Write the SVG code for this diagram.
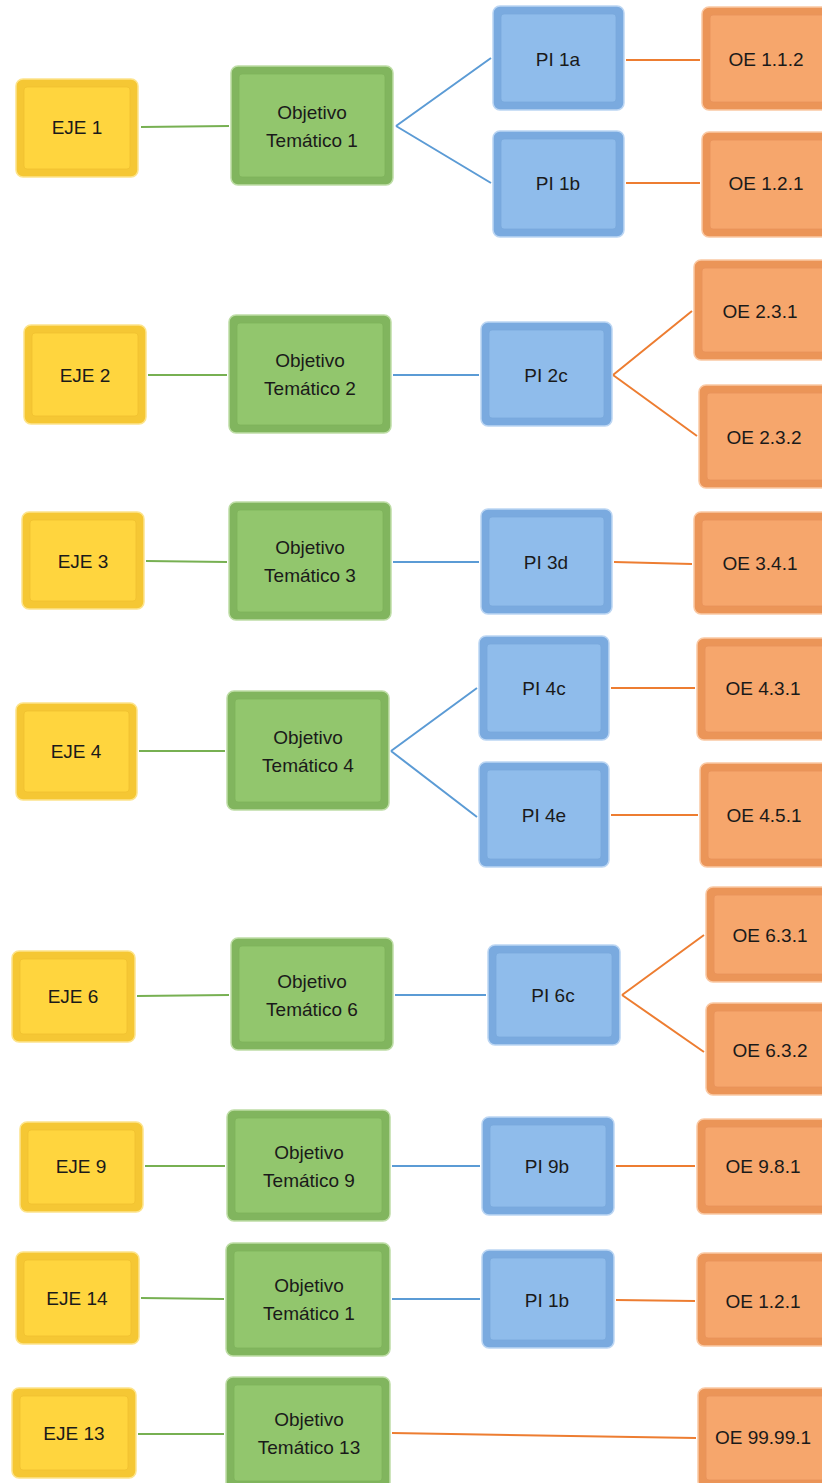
<svg xmlns="http://www.w3.org/2000/svg" width="822" height="1483" viewBox="0 0 822 1483">
<style>
.o{stroke-width:1.5}
.i{stroke-width:0.8}
.y .o{fill:#F5C734;stroke:#FDE48C}
.y .i{fill:#FFD53E;stroke:#F0C030}
.g .o{fill:#81B55E;stroke:#BEDDA6}
.g .i{fill:#92C66D;stroke:#7FB45A}
.b .o{fill:#7AAADF;stroke:#BCD6F3}
.b .i{fill:#8FBCEB;stroke:#78A8DC}
.r .o{fill:#EB9558;stroke:#FAC9A4}
.r .i{fill:#F6A66C;stroke:#E8925A}
text{font-family:"Liberation Sans",Arial,sans-serif;font-size:19px;fill:#1a1a1a;text-anchor:middle}
.lg{stroke:#77B052;stroke-width:2;fill:none}
.lb{stroke:#5B9BD5;stroke-width:2;fill:none}
.lr{stroke:#ED7D31;stroke-width:2;fill:none}
</style>
<rect width="822" height="1483" fill="#ffffff"/>
<g id="connectors">
<path class="lg" d="M141,127 L229,126"/>
<path class="lb" d="M396,126 L491,58 M396,126 L491,183"/>
<path class="lr" d="M626,60 L700,60 M626,183 L700,183"/>
<path class="lg" d="M148,375 L227,375"/>
<path class="lb" d="M393,375 L479,375"/>
<path class="lr" d="M613,375 L692,311 M613,375 L697,436"/>
<path class="lg" d="M146,561 L227,562"/>
<path class="lb" d="M393,562 L479,562"/>
<path class="lr" d="M614,562 L692,564"/>
<path class="lg" d="M139,751 L225,751"/>
<path class="lb" d="M391,751 L477,688 M391,751 L477,817"/>
<path class="lr" d="M611,688 L695,688 M611,815 L698,815"/>
<path class="lg" d="M137,996 L229,995"/>
<path class="lb" d="M395,995 L486,995"/>
<path class="lr" d="M622,995 L704,935 M622,995 L704,1052"/>
<path class="lg" d="M145,1166 L225,1166"/>
<path class="lb" d="M392,1166 L480,1166"/>
<path class="lr" d="M616,1166 L695,1166"/>
<path class="lg" d="M141,1298 L224,1299"/>
<path class="lb" d="M392,1299 L480,1299"/>
<path class="lr" d="M616,1300 L695,1301"/>
<path class="lg" d="M138,1434 L224,1434"/>
<path class="lr" d="M392,1433 L696,1438"/>
</g>

<g id="eje1" class="y"><rect class="o" x="16" y="79" width="122" height="98" rx="7"/><rect class="i" x="24" y="87" width="106" height="82" rx="3"/><text x="77" y="134">EJE 1</text></g>
<g id="ot1" class="g"><rect class="o" x="231" y="66" width="162" height="119" rx="7"/><rect class="i" x="239" y="74" width="146" height="103" rx="3"/><text x="312" y="119">Objetivo</text><text x="312" y="147">Temático 1</text></g>
<g id="pi1a" class="b"><rect class="o" x="493" y="6" width="131" height="104" rx="7"/><rect class="i" x="501" y="14" width="115" height="88" rx="3"/><text x="558" y="66">PI 1a</text></g>
<g id="pi1b" class="b"><rect class="o" x="493" y="131" width="131" height="106" rx="7"/><rect class="i" x="501" y="139" width="115" height="90" rx="3"/><text x="558" y="190">PI 1b</text></g>
<g id="oe112" class="r"><rect class="o" x="702" y="7" width="130" height="103" rx="7"/><rect class="i" x="710" y="15" width="120" height="87" rx="3"/><text x="766" y="66">OE 1.1.2</text></g>
<g id="oe121a" class="r"><rect class="o" x="702" y="132" width="130" height="105" rx="7"/><rect class="i" x="710" y="140" width="120" height="89" rx="3"/><text x="766" y="190">OE 1.2.1</text></g>

<g id="eje2" class="y"><rect class="o" x="24" y="325" width="122" height="99" rx="7"/><rect class="i" x="32" y="333" width="106" height="83" rx="3"/><text x="85" y="382">EJE 2</text></g>
<g id="ot2" class="g"><rect class="o" x="229" y="315" width="162" height="118" rx="7"/><rect class="i" x="237" y="323" width="146" height="102" rx="3"/><text x="310" y="367">Objetivo</text><text x="310" y="395">Temático 2</text></g>
<g id="pi2c" class="b"><rect class="o" x="481" y="322" width="131" height="104" rx="7"/><rect class="i" x="489" y="330" width="115" height="88" rx="3"/><text x="546" y="382">PI 2c</text></g>
<g id="oe231" class="r"><rect class="o" x="694" y="260" width="138" height="100" rx="7"/><rect class="i" x="702" y="268" width="128" height="84" rx="3"/><text x="760" y="318">OE 2.3.1</text></g>
<g id="oe232" class="r"><rect class="o" x="699" y="385" width="133" height="103" rx="7"/><rect class="i" x="707" y="393" width="123" height="87" rx="3"/><text x="764" y="444">OE 2.3.2</text></g>

<g id="eje3" class="y"><rect class="o" x="22" y="512" width="122" height="97" rx="7"/><rect class="i" x="30" y="520" width="106" height="81" rx="3"/><text x="83" y="568">EJE 3</text></g>
<g id="ot3" class="g"><rect class="o" x="229" y="502" width="162" height="118" rx="7"/><rect class="i" x="237" y="510" width="146" height="102" rx="3"/><text x="310" y="554">Objetivo</text><text x="310" y="582">Temático 3</text></g>
<g id="pi3d" class="b"><rect class="o" x="481" y="509" width="131" height="105" rx="7"/><rect class="i" x="489" y="517" width="115" height="89" rx="3"/><text x="546" y="569">PI 3d</text></g>
<g id="oe341" class="r"><rect class="o" x="694" y="512" width="138" height="102" rx="7"/><rect class="i" x="702" y="520" width="128" height="86" rx="3"/><text x="760" y="570">OE 3.4.1</text></g>

<g id="eje4" class="y"><rect class="o" x="16" y="703" width="121" height="97" rx="7"/><rect class="i" x="24" y="711" width="105" height="81" rx="3"/><text x="76" y="758">EJE 4</text></g>
<g id="ot4" class="g"><rect class="o" x="227" y="691" width="162" height="119" rx="7"/><rect class="i" x="235" y="699" width="146" height="103" rx="3"/><text x="308" y="744">Objetivo</text><text x="308" y="772">Temático 4</text></g>
<g id="pi4c" class="b"><rect class="o" x="479" y="636" width="130" height="104" rx="7"/><rect class="i" x="487" y="644" width="114" height="88" rx="3"/><text x="544" y="695">PI 4c</text></g>
<g id="pi4e" class="b"><rect class="o" x="479" y="762" width="130" height="105" rx="7"/><rect class="i" x="487" y="770" width="114" height="89" rx="3"/><text x="544" y="822">PI 4e</text></g>
<g id="oe431" class="r"><rect class="o" x="697" y="638" width="135" height="102" rx="7"/><rect class="i" x="705" y="646" width="125" height="86" rx="3"/><text x="763" y="695">OE 4.3.1</text></g>
<g id="oe451" class="r"><rect class="o" x="700" y="763" width="132" height="104" rx="7"/><rect class="i" x="708" y="771" width="122" height="88" rx="3"/><text x="764" y="822">OE 4.5.1</text></g>

<g id="eje6" class="y"><rect class="o" x="12" y="951" width="123" height="91" rx="7"/><rect class="i" x="20" y="959" width="107" height="75" rx="3"/><text x="73" y="1003">EJE 6</text></g>
<g id="ot6" class="g"><rect class="o" x="231" y="938" width="162" height="112" rx="7"/><rect class="i" x="239" y="946" width="146" height="96" rx="3"/><text x="312" y="988">Objetivo</text><text x="312" y="1016">Temático 6</text></g>
<g id="pi6c" class="b"><rect class="o" x="488" y="945" width="132" height="100" rx="7"/><rect class="i" x="496" y="953" width="116" height="84" rx="3"/><text x="553" y="1002">PI 6c</text></g>
<g id="oe631" class="r"><rect class="o" x="706" y="887" width="126" height="95" rx="7"/><rect class="i" x="714" y="895" width="116" height="79" rx="3"/><text x="770" y="942">OE 6.3.1</text></g>
<g id="oe632" class="r"><rect class="o" x="706" y="1003" width="126" height="92" rx="7"/><rect class="i" x="714" y="1011" width="116" height="76" rx="3"/><text x="770" y="1057">OE 6.3.2</text></g>

<g id="eje9" class="y"><rect class="o" x="20" y="1122" width="123" height="90" rx="7"/><rect class="i" x="28" y="1130" width="107" height="74" rx="3"/><text x="81" y="1173">EJE 9</text></g>
<g id="ot9" class="g"><rect class="o" x="227" y="1110" width="163" height="111" rx="7"/><rect class="i" x="235" y="1118" width="147" height="95" rx="3"/><text x="309" y="1159">Objetivo</text><text x="309" y="1187">Temático 9</text></g>
<g id="pi9b" class="b"><rect class="o" x="482" y="1117" width="132" height="98" rx="7"/><rect class="i" x="490" y="1125" width="116" height="82" rx="3"/><text x="547" y="1173">PI 9b</text></g>
<g id="oe981" class="r"><rect class="o" x="697" y="1119" width="135" height="95" rx="7"/><rect class="i" x="705" y="1127" width="125" height="79" rx="3"/><text x="763" y="1173">OE 9.8.1</text></g>

<g id="eje14" class="y"><rect class="o" x="16" y="1252" width="123" height="92" rx="7"/><rect class="i" x="24" y="1260" width="107" height="76" rx="3"/><text x="77" y="1305">EJE 14</text></g>
<g id="ot1b" class="g"><rect class="o" x="226" y="1243" width="164" height="113" rx="7"/><rect class="i" x="234" y="1251" width="148" height="97" rx="3"/><text x="309" y="1292">Objetivo</text><text x="309" y="1320">Temático 1</text></g>
<g id="pi1b2" class="b"><rect class="o" x="482" y="1250" width="132" height="98" rx="7"/><rect class="i" x="490" y="1258" width="116" height="82" rx="3"/><text x="547" y="1307">PI 1b</text></g>
<g id="oe121b" class="r"><rect class="o" x="697" y="1253" width="135" height="93" rx="7"/><rect class="i" x="705" y="1261" width="125" height="77" rx="3"/><text x="763" y="1308">OE 1.2.1</text></g>

<g id="eje13" class="y"><rect class="o" x="12" y="1388" width="124" height="90" rx="7"/><rect class="i" x="20" y="1396" width="108" height="74" rx="3"/><text x="74" y="1440">EJE 13</text></g>
<g id="ot13" class="g"><rect class="o" x="226" y="1377" width="164" height="112" rx="7"/><rect class="i" x="234" y="1385" width="148" height="96" rx="3"/><text x="309" y="1426">Objetivo</text><text x="309" y="1454">Temático 13</text></g>
<g id="oe99991" class="r"><rect class="o" x="698" y="1388" width="134" height="100" rx="7"/><rect class="i" x="706" y="1396" width="124" height="84" rx="3"/><text x="763" y="1444">OE 99.99.1</text></g>
</svg>
